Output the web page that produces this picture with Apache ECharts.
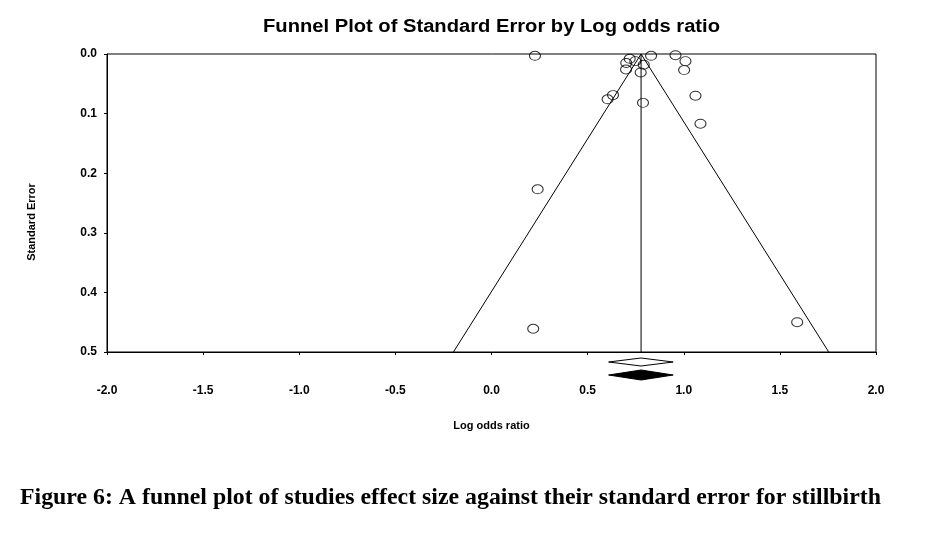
<!DOCTYPE html>
<html>
<head>
<meta charset="utf-8">
<script src="https://cdn.jsdelivr.net/npm/echarts@6/dist/echarts.min.js"></script>
<style>
html,body{margin:0;padding:0;background:#fff;}
#chart{width:928px;height:536px;}
</style>
</head>
<body>
<div id="chart"></div>
<script>
// Study effects (log odds ratio) and standard errors
const logOddsRatio = [0.226, 0.719, 0.748, 0.701, 0.700, 0.792, 0.776, 0.830, 0.957, 1.009, 1.002, 0.632, 0.604, 0.788, 1.061, 1.087, 0.240, 0.217, 1.590];
const standardError = [0.003, 0.008, 0.012, 0.015, 0.026, 0.018, 0.031, 0.003, 0.002, 0.012, 0.027, 0.069, 0.076, 0.082, 0.070, 0.117, 0.227, 0.461, 0.450];
// Pooled estimate and funnel limits
const pooledEstimate = 0.778;
const funnelLeftAtMax = -0.198;
const funnelRightAtMax = 1.754;
const seMax = 0.5;
// Summary diamonds: lower, estimate, upper, filled
const summaryLower = [0.609, 0.609];
const summaryEstimate = [0.778, 0.778];
const summaryUpper = [0.945, 0.945];
const summaryFilled = [0, 1];
// Axis ticks
const xTicks = [-2.0, -1.5, -1.0, -0.5, 0.0, 0.5, 1.0, 1.5, 2.0];
const yTicks = [0.0, 0.1, 0.2, 0.3, 0.4, 0.5];
// Texts
const titleText = 'Funnel Plot of Standard Error by Log odds ratio';
const yName = 'Standard Error';
const xName = 'Log odds ratio';
const captionText = 'Figure 6: A funnel plot of studies effect size against their standard error for stillbirth';

function measure(text, font) {
  const c = document.createElement('canvas').getContext('2d');
  c.font = font;
  return c.measureText(text).width;
}
const titleFont = 'bold 18px "Liberation Sans"';
const captionFont = 'bold 23px "Liberation Serif"';
const titleScale = 457 / measure(titleText, titleFont);
const captionScale = 861 / measure(captionText, captionFont);

const chart = echarts.init(document.getElementById('chart'));
const scatterData = logOddsRatio.map((x, i) => [x, standardError[i]]);
const funnelData = [[funnelLeftAtMax, seMax], [pooledEstimate, 0], [funnelRightAtMax, seMax]];
const centerData = [[pooledEstimate, 0], [pooledEstimate, seMax]];
const diamondData = summaryLower.map((lo, i) => [lo, summaryEstimate[i], summaryUpper[i], summaryFilled[i]]);

const labelFont = {color: '#000', fontFamily: 'Liberation Sans', fontWeight: 'bold', fontSize: 12};

chart.setOption({
  animation: false,
  backgroundColor: '#fff',
  grid: {left: 107, right: 52, top: 54, bottom: 184, show: true, borderColor: '#000', borderWidth: 1, containLabel: false},
  xAxis: {
    type: 'value', min: xTicks[0], max: xTicks[xTicks.length - 1], interval: 0.5,
    name: xName, nameLocation: 'middle', nameGap: 68,
    nameTextStyle: {color: '#000', fontFamily: 'Liberation Sans', fontWeight: 'bold', fontSize: 11},
    axisLine: {show: true, onZero: false, lineStyle: {color: '#000', width: 1}},
    axisTick: {show: true, length: 3, lineStyle: {color: '#000'}},
    axisLabel: Object.assign({margin: 33, formatter: v => v.toFixed(1)}, labelFont),
    splitLine: {show: false}
  },
  yAxis: {
    type: 'value', inverse: true, min: yTicks[0], max: yTicks[yTicks.length - 1], interval: 0.1,
    axisLine: {show: true, onZero: false, lineStyle: {color: '#000', width: 1}},
    axisTick: {show: true, length: 3, lineStyle: {color: '#000'}},
    axisLabel: Object.assign({margin: 10, formatter: v => v.toFixed(1)}, labelFont),
    splitLine: {show: false}
  },
  graphic: [
    {
      type: 'text', x: 263, y: 18, scaleX: titleScale,
      style: {text: titleText, fill: '#000', font: titleFont, align: 'left', verticalAlign: 'top'}
    },
    {
      type: 'text', x: 32, y: 222, rotation: Math.PI / 2,
      style: {text: yName, fill: '#000', font: 'bold 11px "Liberation Sans"', align: 'center', verticalAlign: 'middle'}
    },
    {
      type: 'text', x: 20, y: 487, scaleX: captionScale,
      style: {text: captionText, fill: '#000', font: captionFont, align: 'left', verticalAlign: 'top'}
    }
  ],
  series: [
    {
      type: 'line', data: funnelData, symbol: 'none', silent: true,
      lineStyle: {color: '#000', width: 1}
    },
    {
      type: 'line', data: centerData, symbol: 'none', silent: true,
      lineStyle: {color: '#000', width: 1}
    },
    {
      type: 'scatter', data: scatterData, symbol: 'circle', symbolSize: [11, 9],
      itemStyle: {color: 'rgba(255,255,255,0)', borderColor: '#000', borderWidth: 1}
    },
    {
      type: 'custom', clip: false, silent: true,
      data: diamondData,
      encode: {x: [0, 1, 2]},
      renderItem: function (params, api) {
        const lo = api.coord([api.value(0), seMax]);
        const mid = api.coord([api.value(1), seMax]);
        const hi = api.coord([api.value(2), seMax]);
        const filled = api.value(3) === 1;
        const cy = lo[1] + (filled ? 23 : 10);
        const h = filled ? 5 : 4;
        return {
          type: 'polygon',
          shape: {points: [[lo[0], cy], [mid[0], cy - h], [hi[0], cy], [mid[0], cy + h]]},
          style: {fill: filled ? '#000' : '#fff', stroke: '#000', lineWidth: 1}
        };
      }
    }
  ]
});
</script>
</body>
</html>
